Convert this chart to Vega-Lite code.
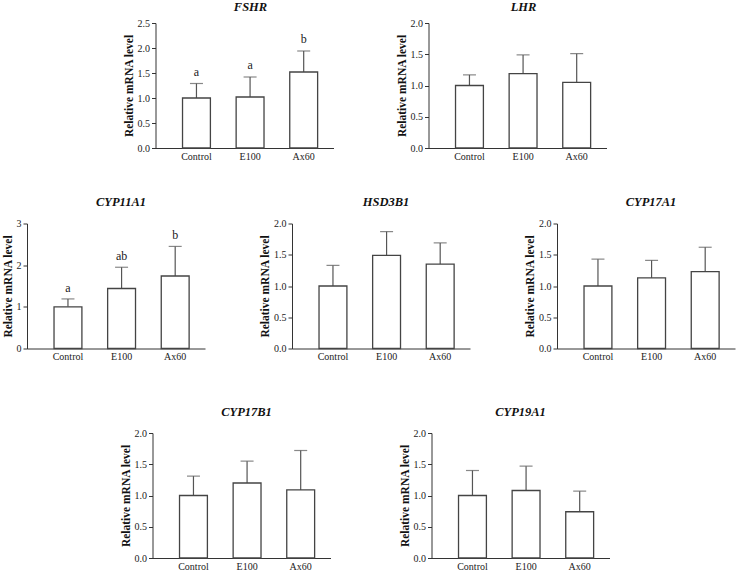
{
  "$schema": "https://vega.github.io/schema/vega-lite/v6.json",
  "background": "white",
  "padding": {"left": 2, "top": 0, "right": 2, "bottom": 0},
  "datasets": {
    "expr": [
      {"gene": "FSHR", "group": "Control", "mean": 1.0, "upper": 1.29, "letter": "a"},
      {"gene": "FSHR", "group": "E100", "mean": 1.02, "upper": 1.42, "letter": "a"},
      {"gene": "FSHR", "group": "Ax60", "mean": 1.52, "upper": 1.94, "letter": "b"},
      {"gene": "LHR", "group": "Control", "mean": 1.0, "upper": 1.17, "letter": ""},
      {"gene": "LHR", "group": "E100", "mean": 1.19, "upper": 1.49, "letter": ""},
      {"gene": "LHR", "group": "Ax60", "mean": 1.05, "upper": 1.51, "letter": ""},
      {"gene": "CYP11A1", "group": "Control", "mean": 1.0, "upper": 1.19, "letter": "a"},
      {"gene": "CYP11A1", "group": "E100", "mean": 1.44, "upper": 1.95, "letter": "ab"},
      {"gene": "CYP11A1", "group": "Ax60", "mean": 1.74, "upper": 2.45, "letter": "b"},
      {"gene": "HSD3B1", "group": "Control", "mean": 1.0, "upper": 1.33, "letter": ""},
      {"gene": "HSD3B1", "group": "E100", "mean": 1.49, "upper": 1.87, "letter": ""},
      {"gene": "HSD3B1", "group": "Ax60", "mean": 1.35, "upper": 1.69, "letter": ""},
      {"gene": "CYP17A1", "group": "Control", "mean": 1.0, "upper": 1.43, "letter": ""},
      {"gene": "CYP17A1", "group": "E100", "mean": 1.13, "upper": 1.41, "letter": ""},
      {"gene": "CYP17A1", "group": "Ax60", "mean": 1.23, "upper": 1.62, "letter": ""},
      {"gene": "CYP17B1", "group": "Control", "mean": 1.0, "upper": 1.31, "letter": ""},
      {"gene": "CYP17B1", "group": "E100", "mean": 1.2, "upper": 1.55, "letter": ""},
      {"gene": "CYP17B1", "group": "Ax60", "mean": 1.09, "upper": 1.72, "letter": ""},
      {"gene": "CYP19A1", "group": "Control", "mean": 1.0, "upper": 1.4, "letter": ""},
      {"gene": "CYP19A1", "group": "E100", "mean": 1.08, "upper": 1.47, "letter": ""},
      {"gene": "CYP19A1", "group": "Ax60", "mean": 0.74, "upper": 1.07, "letter": ""}
    ]
  },
  "config": {
    "view": {"stroke": null},
    "font": "Liberation Serif",
    "axis": {
      "grid": false,
      "domainColor": "#333333",
      "tickColor": "#333333",
      "labelFont": "Liberation Serif",
      "labelFontSize": 10,
      "labelColor": "#222222",
      "labelOverlap": false,
      "titleFont": "Liberation Serif",
      "titleFontSize": 11.5,
      "titleFontWeight": "bold",
      "titleColor": "#111111",
      "titlePadding": 3
    },
    "title": {
      "font": "Liberation Serif",
      "fontSize": 12.5,
      "fontStyle": "italic",
      "fontWeight": "bold",
      "color": "#111111",
      "anchor": "middle"
    }
  },
  "vconcat": [
    {
      "vconcat": [
        {
          "hconcat": [
            {
              "title": {"text": "FSHR", "offset": 5, "dx": 6},
              "width": 178, "height": 125,
              "data": {"name": "expr"},
              "transform": [{"filter": "datum.gene === 'FSHR'"}],
              "encoding": {
                "x": {"field": "group", "type": "nominal", "sort": ["Control", "E100", "Ax60"],
                  "scale": {"paddingInner": 0.48, "paddingOuter": 0.4, "align": 0.63},
                  "axis": {"title": null, "ticks": false, "labelAngle": 0, "labelPadding": 3}},
                "y": {"field": "mean", "type": "quantitative", "scale": {"domain": [0, 2.5], "nice": false},
                  "axis": {"title": "Relative mRNA level", "values": [0, 0.5, 1, 1.5, 2, 2.5], "format": ".1f", "tickSize": 4}}
              },
              "layer": [
                {"mark": {"type": "rule", "color": "#555555", "strokeWidth": 1.2},
                  "encoding": {"y2": {"field": "upper"}}},
                {"mark": {"type": "tick", "color": "#555555", "thickness": 1.2, "size": 13},
                  "encoding": {"y": {"field": "upper", "type": "quantitative", "scale": {"domain": [0, 2.5], "nice": false},
                    "axis": {"title": "Relative mRNA level", "values": [0, 0.5, 1, 1.5, 2, 2.5], "format": ".1f", "tickSize": 4}}}},
                {"mark": {"type": "bar", "fill": "white", "stroke": "#444444", "strokeWidth": 1.3}},
                {"mark": {"type": "text", "fontSize": 12, "baseline": "bottom", "dy": -5, "color": "#222222"},
                  "encoding": {"y": {"field": "upper", "type": "quantitative", "scale": {"domain": [0, 2.5], "nice": false},
                    "axis": {"title": "Relative mRNA level", "values": [0, 0.5, 1, 1.5, 2, 2.5], "format": ".1f", "tickSize": 4}},
                    "text": {"field": "letter"}}}
              ]
            },
            {
              "title": {"text": "LHR", "offset": 5, "dx": 6},
              "width": 178, "height": 125,
              "data": {"name": "expr"},
              "transform": [{"filter": "datum.gene === 'LHR'"}],
              "encoding": {
                "x": {"field": "group", "type": "nominal", "sort": ["Control", "E100", "Ax60"],
                  "scale": {"paddingInner": 0.48, "paddingOuter": 0.4, "align": 0.63},
                  "axis": {"title": null, "ticks": false, "labelAngle": 0, "labelPadding": 3}},
                "y": {"field": "mean", "type": "quantitative", "scale": {"domain": [0, 2], "nice": false},
                  "axis": {"title": "Relative mRNA level", "values": [0, 0.5, 1, 1.5, 2], "format": ".1f", "tickSize": 4}}
              },
              "layer": [
                {"mark": {"type": "rule", "color": "#555555", "strokeWidth": 1.2},
                  "encoding": {"y2": {"field": "upper"}}},
                {"mark": {"type": "tick", "color": "#555555", "thickness": 1.2, "size": 13},
                  "encoding": {"y": {"field": "upper", "type": "quantitative", "scale": {"domain": [0, 2], "nice": false},
                    "axis": {"title": "Relative mRNA level", "values": [0, 0.5, 1, 1.5, 2], "format": ".1f", "tickSize": 4}}}},
                {"mark": {"type": "bar", "fill": "white", "stroke": "#444444", "strokeWidth": 1.3}}
              ]
            }
          ],
          "spacing": 62
        },
        {
          "hconcat": [
            {
              "title": {"text": "CYP11A1", "offset": 10, "dx": 5},
              "width": 178, "height": 125,
              "data": {"name": "expr"},
              "transform": [{"filter": "datum.gene === 'CYP11A1'"}],
              "encoding": {
                "x": {"field": "group", "type": "nominal", "sort": ["Control", "E100", "Ax60"],
                  "scale": {"paddingInner": 0.48, "paddingOuter": 0.4, "align": 0.63},
                  "axis": {"title": null, "ticks": false, "labelAngle": 0, "labelPadding": 3}},
                "y": {"field": "mean", "type": "quantitative", "scale": {"domain": [0, 3], "nice": false},
                  "axis": {"title": "Relative mRNA level", "values": [0, 1, 2, 3], "format": "d", "tickSize": 4}}
              },
              "layer": [
                {"mark": {"type": "rule", "color": "#555555", "strokeWidth": 1.2},
                  "encoding": {"y2": {"field": "upper"}}},
                {"mark": {"type": "tick", "color": "#555555", "thickness": 1.2, "size": 13},
                  "encoding": {"y": {"field": "upper", "type": "quantitative", "scale": {"domain": [0, 3], "nice": false},
                    "axis": {"title": "Relative mRNA level", "values": [0, 1, 2, 3], "format": "d", "tickSize": 4}}}},
                {"mark": {"type": "bar", "fill": "white", "stroke": "#444444", "strokeWidth": 1.3}},
                {"mark": {"type": "text", "fontSize": 12, "baseline": "bottom", "dy": -4, "color": "#222222"},
                  "encoding": {"y": {"field": "upper", "type": "quantitative", "scale": {"domain": [0, 3], "nice": false},
                    "axis": {"title": "Relative mRNA level", "values": [0, 1, 2, 3], "format": "d", "tickSize": 4}},
                    "text": {"field": "letter"}}}
              ]
            },
            {
              "title": {"text": "HSD3B1", "offset": 10, "dx": 5},
              "width": 178, "height": 125,
              "data": {"name": "expr"},
              "transform": [{"filter": "datum.gene === 'HSD3B1'"}],
              "encoding": {
                "x": {"field": "group", "type": "nominal", "sort": ["Control", "E100", "Ax60"],
                  "scale": {"paddingInner": 0.48, "paddingOuter": 0.4, "align": 0.63},
                  "axis": {"title": null, "ticks": false, "labelAngle": 0, "labelPadding": 3}},
                "y": {"field": "mean", "type": "quantitative", "scale": {"domain": [0, 2], "nice": false},
                  "axis": {"title": "Relative mRNA level", "values": [0, 0.5, 1, 1.5, 2], "format": ".1f", "tickSize": 4}}
              },
              "layer": [
                {"mark": {"type": "rule", "color": "#555555", "strokeWidth": 1.2},
                  "encoding": {"y2": {"field": "upper"}}},
                {"mark": {"type": "tick", "color": "#555555", "thickness": 1.2, "size": 13},
                  "encoding": {"y": {"field": "upper", "type": "quantitative", "scale": {"domain": [0, 2], "nice": false},
                    "axis": {"title": "Relative mRNA level", "values": [0, 0.5, 1, 1.5, 2], "format": ".1f", "tickSize": 4}}}},
                {"mark": {"type": "bar", "fill": "white", "stroke": "#444444", "strokeWidth": 1.3}}
              ]
            },
            {
              "title": {"text": "CYP17A1", "offset": 10, "dx": 5},
              "width": 178, "height": 125,
              "data": {"name": "expr"},
              "transform": [{"filter": "datum.gene === 'CYP17A1'"}],
              "encoding": {
                "x": {"field": "group", "type": "nominal", "sort": ["Control", "E100", "Ax60"],
                  "scale": {"paddingInner": 0.48, "paddingOuter": 0.4, "align": 0.63},
                  "axis": {"title": null, "ticks": false, "labelAngle": 0, "labelPadding": 3}},
                "y": {"field": "mean", "type": "quantitative", "scale": {"domain": [0, 2], "nice": false},
                  "axis": {"title": "Relative mRNA level", "values": [0, 0.5, 1, 1.5, 2], "format": ".1f", "tickSize": 4}}
              },
              "layer": [
                {"mark": {"type": "rule", "color": "#555555", "strokeWidth": 1.2},
                  "encoding": {"y2": {"field": "upper"}}},
                {"mark": {"type": "tick", "color": "#555555", "thickness": 1.2, "size": 13},
                  "encoding": {"y": {"field": "upper", "type": "quantitative", "scale": {"domain": [0, 2], "nice": false},
                    "axis": {"title": "Relative mRNA level", "values": [0, 0.5, 1, 1.5, 2], "format": ".1f", "tickSize": 4}}}},
                {"mark": {"type": "bar", "fill": "white", "stroke": "#444444", "strokeWidth": 1.3}}
              ]
            }
          ],
          "spacing": 54
        }
      ],
      "spacing": 34.5,
      "center": true
    },
    {
      "hconcat": [
        {
          "title": {"text": "CYP17B1", "offset": 10, "dx": 5},
          "width": 178, "height": 125,
          "data": {"name": "expr"},
          "transform": [{"filter": "datum.gene === 'CYP17B1'"}],
          "encoding": {
            "x": {"field": "group", "type": "nominal", "sort": ["Control", "E100", "Ax60"],
              "scale": {"paddingInner": 0.48, "paddingOuter": 0.4, "align": 0.63},
              "axis": {"title": null, "ticks": false, "labelAngle": 0, "labelPadding": 3}},
            "y": {"field": "mean", "type": "quantitative", "scale": {"domain": [0, 2], "nice": false},
              "axis": {"title": "Relative mRNA level", "values": [0, 0.5, 1, 1.5, 2], "format": ".1f", "tickSize": 4}}
          },
          "layer": [
            {"mark": {"type": "rule", "color": "#555555", "strokeWidth": 1.2},
              "encoding": {"y2": {"field": "upper"}}},
            {"mark": {"type": "tick", "color": "#555555", "thickness": 1.2, "size": 13},
              "encoding": {"y": {"field": "upper", "type": "quantitative", "scale": {"domain": [0, 2], "nice": false},
                "axis": {"title": "Relative mRNA level", "values": [0, 0.5, 1, 1.5, 2], "format": ".1f", "tickSize": 4}}}},
            {"mark": {"type": "bar", "fill": "white", "stroke": "#444444", "strokeWidth": 1.3}}
          ]
        },
        {
          "title": {"text": "CYP19A1", "offset": 10, "dx": 0},
          "width": 178, "height": 125,
          "data": {"name": "expr"},
          "transform": [{"filter": "datum.gene === 'CYP19A1'"}],
          "encoding": {
            "x": {"field": "group", "type": "nominal", "sort": ["Control", "E100", "Ax60"],
              "scale": {"paddingInner": 0.48, "paddingOuter": 0.4, "align": 0.63},
              "axis": {"title": null, "ticks": false, "labelAngle": 0, "labelPadding": 3}},
            "y": {"field": "mean", "type": "quantitative", "scale": {"domain": [0, 2], "nice": false},
              "axis": {"title": "Relative mRNA level", "values": [0, 0.5, 1, 1.5, 2], "format": ".1f", "tickSize": 4}}
          },
          "layer": [
            {"mark": {"type": "rule", "color": "#555555", "strokeWidth": 1.2},
              "encoding": {"y2": {"field": "upper"}}},
            {"mark": {"type": "tick", "color": "#555555", "thickness": 1.2, "size": 13},
              "encoding": {"y": {"field": "upper", "type": "quantitative", "scale": {"domain": [0, 2], "nice": false},
                "axis": {"title": "Relative mRNA level", "values": [0, 0.5, 1, 1.5, 2], "format": ".1f", "tickSize": 4}}}},
            {"mark": {"type": "bar", "fill": "white", "stroke": "#444444", "strokeWidth": 1.3}}
          ]
        }
      ],
      "spacing": 68
    }
  ],
  "spacing": 43,
  "center": true
}
